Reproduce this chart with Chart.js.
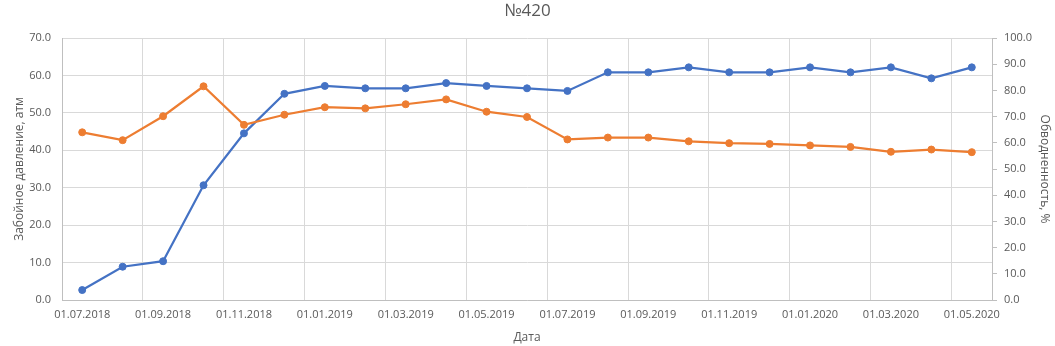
<!DOCTYPE html>
<html>
<head>
<meta charset="utf-8">
<script src="https://cdn.jsdelivr.net/npm/chart.js@4/dist/chart.umd.min.js"></script>
<style>
  html, body { margin: 0; padding: 0; background: #fff; }
</style>
</head>
<body>
<canvas id="chart" width="1055" height="346"></canvas>
<script>
// monthly dates, labels shown every second month
const dates = [
  '01.07.2018', '01.08.2018', '01.09.2018', '01.10.2018', '01.11.2018', '01.12.2018',
  '01.01.2019', '01.02.2019', '01.03.2019', '01.04.2019', '01.05.2019', '01.06.2019',
  '01.07.2019', '01.08.2019', '01.09.2019', '01.10.2019', '01.11.2019', '01.12.2019',
  '01.01.2020', '01.02.2020', '01.03.2020', '01.04.2020', '01.05.2020'
];

// Забойное давление, атм (left axis)
const pressure = [
  44.8, 42.7, 49.1, 57.1, 46.8, 49.5, 51.5, 51.2, 52.3, 53.6, 50.3, 48.9,
  42.9, 43.4, 43.4, 42.4, 41.9, 41.7, 41.3, 40.9, 39.6, 40.2, 39.5
];

// Обводненность, % (right axis)
const waterCut = [
  3.8, 12.7, 14.8, 43.8, 63.6, 78.7, 81.7, 80.8, 80.8, 82.8, 81.7, 80.8,
  79.8, 86.9, 86.9, 88.8, 86.9, 86.9, 88.8, 86.9, 88.8, 84.6, 88.8
];

const textColor = '#595959';
const gridColor = '#d9d9d9';
const axisColor = '#bfbfbf';
const fontFamily = '"Open Sans", "Liberation Sans", sans-serif';

new Chart(document.getElementById('chart'), {
  type: 'line',
  data: {
    labels: dates,
    datasets: [
      {
        label: 'Забойное давление, атм',
        data: pressure,
        yAxisID: 'y',
        borderColor: '#ED7D31',
        backgroundColor: '#ED7D31',
        pointBackgroundColor: '#ED7D31',
        borderWidth: 2.25,
        pointRadius: 3.5,
        pointBorderWidth: 1,
        tension: 0,
        order: 0
      },
      {
        label: 'Обводненность, %',
        data: waterCut,
        yAxisID: 'y1',
        borderColor: '#4472C4',
        backgroundColor: '#4472C4',
        pointBackgroundColor: '#4472C4',
        borderWidth: 2.25,
        pointRadius: 3.5,
        pointBorderWidth: 1,
        tension: 0,
        order: 1
      }
    ]
  },
  options: {
    responsive: false,
    animation: false,
    devicePixelRatio: 1,
    layout: { padding: 0 },
    plugins: {
      legend: { display: false },
      tooltip: { enabled: false },
      title: {
        display: true,
        text: '№420',
        color: textColor,
        font: { family: fontFamily, size: 17, weight: 'normal' },
        padding: { top: 1, bottom: 16.6 }
      }
    },
    scales: {
      x: {
        type: 'category',
        offset: true,
        grid: {
          offset: true,
          drawTicks: false,
          color: ctx => (ctx.index % 2 === 0 ? gridColor : 'rgba(0,0,0,0)')
        },
        border: { color: axisColor },
        ticks: {
          autoSkip: false,
          maxRotation: 0,
          minRotation: 0,
          padding: 8,
          color: textColor,
          font: { family: fontFamily, size: 11 },
          callback: function(value, index) {
            return index % 2 === 0 ? this.getLabelForValue(value) : '';
          }
        },
        title: {
          display: true,
          text: 'Дата',
          color: textColor,
          font: { family: fontFamily, size: 12 },
          padding: { top: 0, bottom: 1 }
        },
        afterFit: scale => { scale.height = 46; }
      },
      y: {
        position: 'left',
        min: 0,
        max: 70,
        grid: { color: gridColor, drawTicks: false },
        border: { color: axisColor },
        ticks: {
          stepSize: 10,
          padding: 11,
          color: textColor,
          font: { family: fontFamily, size: 11 },
          callback: v => v.toFixed(1)
        },
        title: {
          display: true,
          text: 'Забойное давление, атм',
          color: textColor,
          font: { family: fontFamily, size: 12 },
          padding: { top: 12.8, bottom: 0 }
        },
        afterFit: scale => { scale.width = 62; }
      },
      y1: {
        position: 'right',
        min: 0,
        max: 100,
        grid: { drawOnChartArea: false, color: axisColor, tickLength: 5 },
        border: { color: axisColor },
        ticks: {
          stepSize: 10,
          padding: 7,
          color: textColor,
          font: { family: fontFamily, size: 11 },
          callback: v => v.toFixed(1)
        },
        title: {
          display: true,
          text: 'Обводненность, %',
          color: textColor,
          font: { family: fontFamily, size: 12 },
          padding: { top: 3.8, bottom: 0 }
        },
        afterFit: scale => { scale.width = 63; }
      }
    }
  }
});
</script>
</body>
</html>
